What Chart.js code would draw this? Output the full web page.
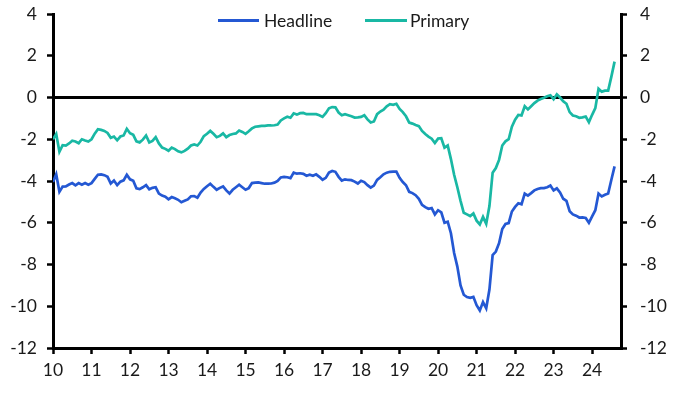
<!DOCTYPE html>
<html lang="en">
<head>
  <meta charset="UTF-8" />
  <title>Headline vs Primary</title>
  <script src="https://cdn.jsdelivr.net/npm/chart.js"></script>
  <style>
    body { margin: 0; background: #fff; }
    .wrap { position: relative; width: 680px; height: 396px; }
    .legenda { position: absolute; top: 11px; left: 0; width: 680px; font-family: Lato, sans-serif; font-size: 17.5px; color: #1a1a1a; }
    .item { position: absolute; top: 0; height: 20px; line-height: 20px; }
    .item i { position: absolute; top: 8px; left: 0; height: 3px; }
    .item span { position: absolute; white-space: nowrap; }
  </style>
</head>
<body>
  <div class="wrap">
    <canvas id="grafico"></canvas>
    <div class="legenda">
      <div class="item" style="left:218px"><i style="width:41px;background:#2458d3"></i><span style="left:46px">Headline</span></div>
      <div class="item" style="left:365px"><i style="width:42px;background:#19b8a4"></i><span style="left:45px">Primary</span></div>
    </div>
  </div>

  <script>
    // monthly, Jan 2010 .. Aug 2024
    const startYear = 2010;
    const yTicks = [-12, -10, -8, -6, -4, -2, 0, 2, 4];

    const headline = [
      -4.05, -3.68, -4.52, -4.27, -4.26, -4.17, -4.10, -4.21, -4.10, -4.18, -4.10, -4.18,
      -4.10, -3.90, -3.70, -3.68, -3.72, -3.80, -4.12, -3.98, -4.20, -4.03, -3.97, -3.70,
      -3.92, -3.99, -4.35, -4.39, -4.30, -4.20, -4.40, -4.33, -4.30, -4.60, -4.70, -4.75,
      -4.88, -4.77, -4.83, -4.90, -5.02, -4.95, -4.88, -4.73, -4.72, -4.80, -4.55, -4.38,
      -4.25, -4.13, -4.28, -4.42, -4.33, -4.26, -4.45, -4.60, -4.42, -4.30, -4.18, -4.30,
      -4.42, -4.34, -4.10, -4.08, -4.07, -4.10, -4.13, -4.13, -4.12, -4.08, -4.00, -3.83,
      -3.80, -3.82, -3.86, -3.60, -3.65, -3.63, -3.66, -3.75, -3.70, -3.75, -3.68, -3.80,
      -3.94, -3.85, -3.60, -3.52, -3.56, -3.80, -3.98, -3.92, -3.95, -3.96, -4.03, -4.12,
      -3.99, -4.05, -4.20, -4.32, -4.22, -3.95, -3.82, -3.68, -3.60, -3.56, -3.55, -3.55,
      -3.85, -4.05, -4.20, -4.52, -4.58, -4.68, -4.85, -5.14, -5.25, -5.33, -5.30, -5.60,
      -5.40, -5.50, -6.00, -5.95, -6.50, -7.45, -8.10, -9.00, -9.45, -9.56, -9.60, -9.55,
      -9.95, -10.20, -9.80, -10.10, -9.20, -7.55, -7.38, -6.98, -6.30, -6.06, -6.02, -5.46,
      -5.24, -5.07, -5.12, -4.60, -4.70, -4.58, -4.45, -4.38, -4.34, -4.34, -4.30, -4.22,
      -4.45, -4.35, -4.55, -4.85, -4.95, -5.45, -5.60, -5.66, -5.75, -5.74, -5.77, -6.00,
      -5.70, -5.40, -4.60, -4.74, -4.66, -4.60, -3.94, -3.30
    ];

    const primary = [
      -2.00, -1.75, -2.60, -2.28, -2.30, -2.20, -2.07, -2.11, -2.19, -2.00, -2.06, -2.11,
      -2.00, -1.73, -1.52, -1.55, -1.60, -1.70, -1.93, -1.87, -2.05, -1.87, -1.82, -1.50,
      -1.71, -1.79, -2.10, -2.15, -2.02, -1.82, -2.15, -2.08, -1.90, -2.20, -2.40, -2.46,
      -2.55, -2.40, -2.47, -2.58, -2.63, -2.56, -2.45, -2.30, -2.25, -2.30, -2.12, -1.85,
      -1.74, -1.60, -1.74, -1.90, -1.84, -1.72, -1.90, -1.80, -1.75, -1.72, -1.58, -1.65,
      -1.74, -1.62, -1.48, -1.40, -1.38, -1.36, -1.36, -1.34, -1.34, -1.33, -1.30, -1.10,
      -1.00, -0.92, -0.97, -0.76, -0.82, -0.75, -0.74, -0.80, -0.80, -0.79, -0.80, -0.85,
      -0.93, -0.75, -0.52, -0.46, -0.47, -0.72, -0.85, -0.80, -0.85, -0.90, -0.96, -0.95,
      -0.93, -0.85, -1.05, -1.20, -1.15, -0.80, -0.67, -0.58, -0.42, -0.32, -0.35, -0.30,
      -0.55, -0.70, -0.90, -1.20, -1.25, -1.32, -1.37, -1.60, -1.75, -1.87, -1.97, -2.18,
      -1.97, -1.95, -2.40, -2.30, -2.95, -3.70, -4.30, -4.95, -5.52, -5.60, -5.68, -5.55,
      -5.90, -6.08, -5.72, -6.05, -5.20, -3.60, -3.38, -2.99, -2.30, -2.10, -2.00, -1.40,
      -1.06, -0.84, -0.86, -0.42, -0.57, -0.42, -0.27, -0.15, -0.07, -0.01, 0.06, 0.11,
      -0.08, 0.15, 0.00, -0.18, -0.30, -0.70, -0.86, -0.90, -0.97, -0.95, -0.91, -1.18,
      -0.83, -0.51, 0.42, 0.28, 0.33, 0.33, 1.00, 1.72
    ];

    function pontos(valores) {
      return valores.map((v, i) => ({ x: startYear + i / 12, y: v }));
    }

    const fonte = { family: 'Lato, sans-serif', size: 17.5 };
    const cor = '#1a1a1a';

    function eixoY(lado, largura) {
      return {
        position: lado,
        min: -12,
        max: 4,
        afterBuildTicks: s => { s.ticks = yTicks.map(v => ({ value: v })); },
        afterFit: s => { s.width = largura; s.paddingTop = 0; s.paddingBottom = 0; },
        ticks: { font: fonte, color: cor, padding: lado === 'left' ? 10 : 13 },
        grid: {
          drawOnChartArea: lado === 'left',
          color: c => (c.tick && c.tick.value === 0 ? '#000' : 'rgba(0,0,0,0)'),
          lineWidth: 3,
          drawTicks: true,
          tickLength: 6,
          tickColor: '#000',
          tickWidth: 2.5
        },
        border: { display: true, color: '#000', width: 3 }
      };
    }

    new Chart(document.getElementById('grafico'), {
      type: 'line',
      data: {
        datasets: [
          { label: 'Headline', data: pontos(headline), borderColor: '#2458d3', borderWidth: 2.7, pointRadius: 0, tension: 0 },
          { label: 'Primary', data: pontos(primary), borderColor: '#19b8a4', borderWidth: 2.7, pointRadius: 0, tension: 0 }
        ]
      },
      options: {
        responsive: true,
        maintainAspectRatio: false,
        animation: false,
        layout: { padding: { top: 14, left: 0, right: 0, bottom: 0 } },
        plugins: { legend: { display: false }, tooltip: { enabled: false } },
        scales: {
          x: {
            type: 'linear',
            min: 2010,
            max: 2024.75,
            afterFit: s => { s.height = 48; s.paddingLeft = 0; s.paddingRight = 0; },
            ticks: {
              stepSize: 1,
              includeBounds: false,
              font: fonte,
              color: cor,
              padding: 6,
              maxRotation: 0,
              callback: v => String(Math.round(v) - 2000)
            },
            grid: { drawOnChartArea: false, drawTicks: true, tickLength: 6, tickColor: '#000', tickWidth: 2.5 },
            border: { display: true, color: '#000', width: 3 }
          },
          y: eixoY('left', 53),
          y2: eixoY('right', 59)
        }
      }
    });
  </script>
</body>
</html>
